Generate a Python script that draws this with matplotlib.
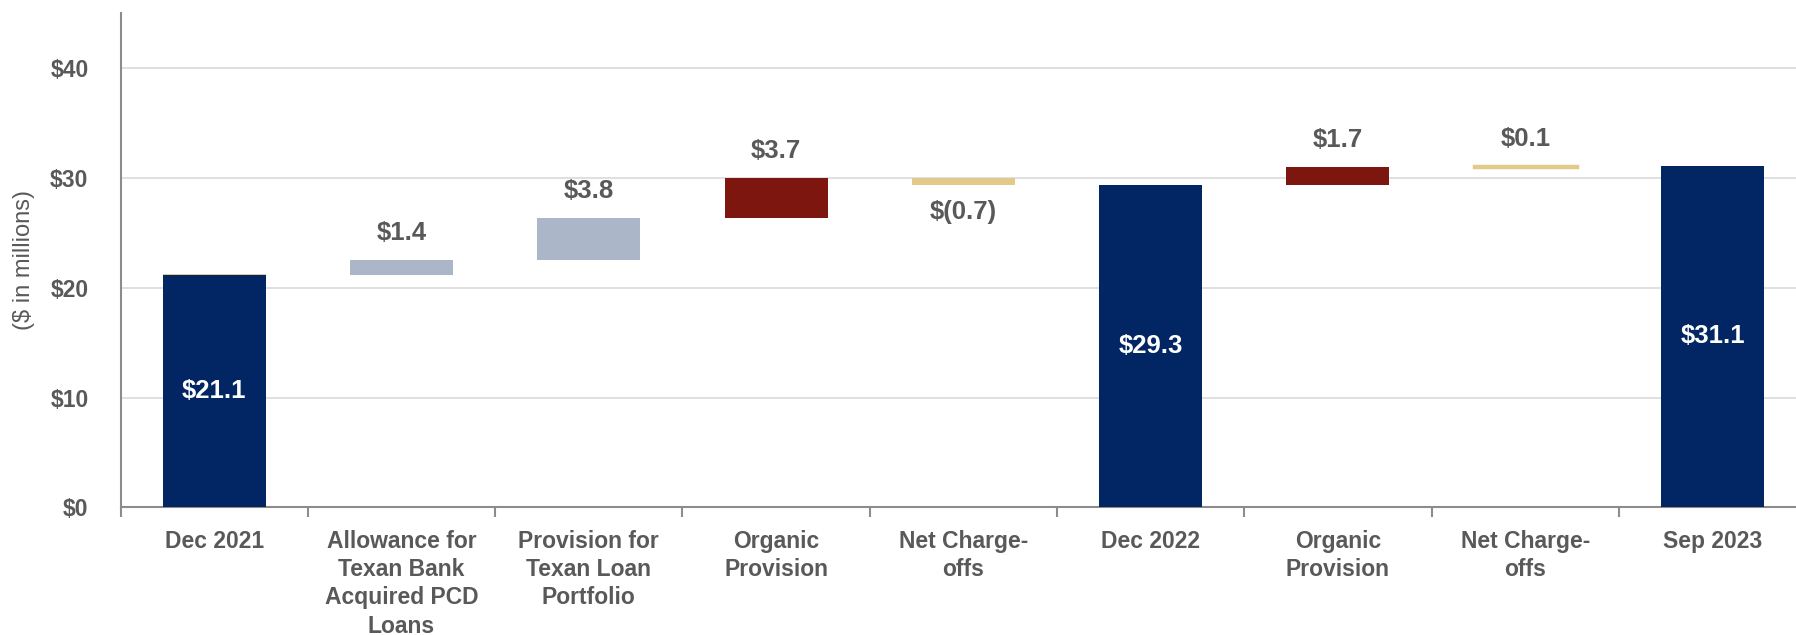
import matplotlib
matplotlib.use("Agg")
import matplotlib.pyplot as plt
import numpy as np

plt.rcParams['font.family'] = ['Liberation Sans', 'DejaVu Sans']

# data
categories = ["Dec 2021", "Allowance for\nTexan Bank\nAcquired PCD\nLoans",
              "Provision for\nTexan Loan\nPortfolio", "Organic\nProvision",
              "Net Charge-\noffs", "Dec 2022", "Organic\nProvision",
              "Net Charge-\noffs", "Sep 2023"]
values = [21.1, 1.4, 3.8, 3.7, -0.7, 29.3, 1.7, 0.1, 31.1]
kinds = ["total", "texan", "texan", "organic", "nco", "total", "organic", "nco", "total"]
dec2021_cap = 0.1

colors = {"total": "#012663", "texan": "#ABB6C8", "organic": "#7E1610", "nco": "#E2CB8A"}
grey = "#595959"

fig = plt.figure(figsize=(17.96, 6.35), dpi=100)
ax = fig.add_axes([0.0671, 0.2009, 0.9386, 0.779])

x = np.arange(len(categories))
w = 0.55
running = 0.0
for i, (v, k) in enumerate(zip(values, kinds)):
    if k == "total":
        ax.bar(x[i], v, w, color=colors[k], zorder=3)
        ax.text(x[i], v / 2, f"${v:.1f}", ha="center", va="center",
                color="white", fontsize=18.5, fontweight="bold", zorder=4)
        running = v
    else:
        bottom = running if v >= 0 else running + v
        h = abs(v)
        lw = 2.5 if h < 0.2 else 0
        ax.bar(x[i], h, w, bottom=bottom, color=colors[k], edgecolor=colors[k],
               linewidth=lw, zorder=3)
        if v >= 0:
            ax.text(x[i], running + v + 2.45, f"${v:.1f}", ha="center", va="center",
                    color=grey, fontsize=18.5, fontweight="bold")
        else:
            ax.text(x[i], running + v - 2.45, f"$({abs(v):.1f})", ha="center", va="center",
                    color=grey, fontsize=18.5, fontweight="bold")
        running += v

# thin cap on the first bar
ax.bar(x[0], dec2021_cap, w, bottom=values[0], color=colors["nco"], zorder=3)

ax.set_xlim(-0.5, len(categories) - 0.5)
ax.set_ylim(0, 45)
ax.set_yticks([0, 10, 20, 30, 40])
ax.set_yticklabels(["$0", "$10", "$20", "$30", "$40"])
ax.set_xticks(x)
ax.set_xticklabels(categories, linespacing=1.3)
ax.set_xticks(np.arange(len(categories) + 1) - 0.5, minor=True)

ax.tick_params(axis="y", length=0, pad=23, labelsize=16.5, labelcolor=grey)
ax.tick_params(axis="x", which="major", length=0, pad=16, labelsize=16.5, labelcolor=grey)
ax.tick_params(axis="x", which="minor", length=7, width=1.5, color="#8C8C8C")
for lab in ax.get_xticklabels() + ax.get_yticklabels():
    lab.set_fontweight("bold")

ax.grid(axis="y", color="#DDDDDD", linewidth=1.3, zorder=0)
ax.set_axisbelow(True)
for s in ["top", "right"]:
    ax.spines[s].set_visible(False)
for s in ["left", "bottom"]:
    ax.spines[s].set_color("#8C8C8C")
    ax.spines[s].set_linewidth(1.5)

fig.text(0.0134, 0.590, "($ in millions)", rotation=90, ha="center", va="center",
         color=grey, fontsize=17)

fig.savefig("out.png", dpi=100)
